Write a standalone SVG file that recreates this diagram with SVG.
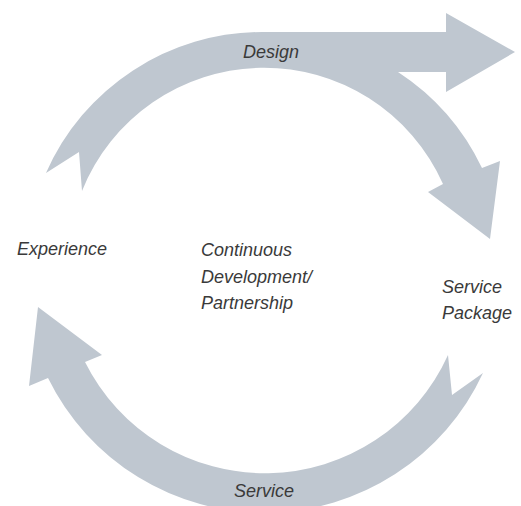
<svg xmlns="http://www.w3.org/2000/svg" width="521" height="506" viewBox="0 0 521 506">
<style>
.arrow{fill:#bfc7d0;stroke:none}
.lbl{font-family:"Liberation Sans",Arial,sans-serif;font-style:italic;font-size:18px;fill:#3a3a3a}
</style>
<rect width="521" height="506" fill="#ffffff"/>
<g id="connectors">
<path id="design-arrow" class="arrow" d="M46,173 A236,236 0 0 1 262,32 L446,32 L446,13 L515,52 L446,92 L446,72 L398,72 A236,236 0 0 1 482,168 L500,161 L490,239 L428,192 L443,184 A196,196 0 0 0 82,191 L79,152 Z"/>
<path id="service-arrow" class="arrow" d="M483,373 A241,241 0 0 1 48,378 L29,386 L38,307 L102,355 L85,362 A201,201 0 0 0 448,355 L452,395 Z"/>
</g>
<g id="design"><text class="lbl" x="243" y="58">Design</text></g>
<g id="experience"><text class="lbl" x="17" y="255">Experience</text></g>
<g id="continuous"><text class="lbl" x="201" y="256">Continuous</text><text class="lbl" x="201" y="283">Development/</text><text class="lbl" x="201" y="309">Partnership</text></g>
<g id="service-package"><text class="lbl" x="442" y="293">Service</text><text class="lbl" x="442" y="319">Package</text></g>
<g id="service"><text class="lbl" x="234" y="497">Service</text></g>
</svg>
